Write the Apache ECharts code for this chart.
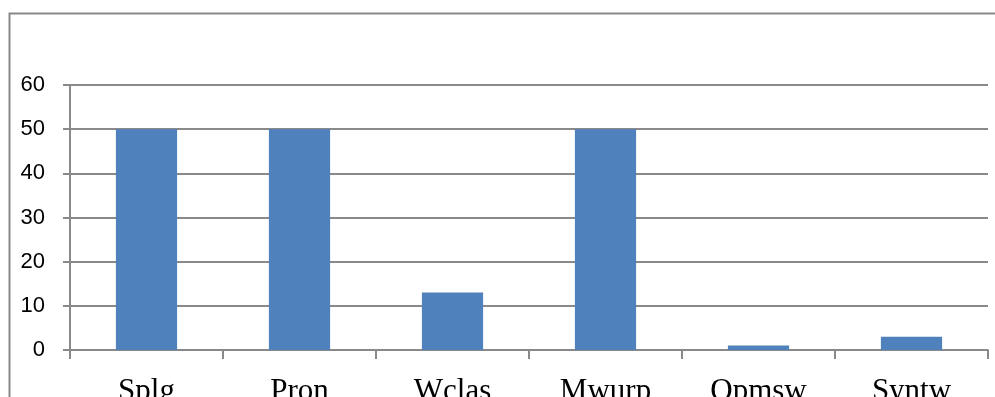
<!DOCTYPE html>
<html>
<head>
<meta charset="utf-8">
<script src="https://cdn.jsdelivr.net/npm/echarts@6/dist/echarts.min.js"></script>
<style>
  html, body { margin: 0; padding: 0; background: #fff; }
  #chart { width: 995px; height: 397px; }
</style>
</head>
<body>
<div id="chart"></div>
<script>
// Category names and their counts
const categories = ['Splg', 'Pron', 'Wclas', 'Mwurp', 'Opmsw', 'Syntw'];
const values = [50, 50, 13, 50, 1, 3];
// Value axis range
const yMin = 0;
const yMax = 60;
const yStep = 10;

const axisGray = '#898989';
const chart = echarts.init(document.getElementById('chart'));
chart.setOption({
  backgroundColor: '#ffffff',
  animation: false,
  graphic: [{
    type: 'rect',
    shape: { x: 9.5, y: 13.5, width: 1000, height: 400 },
    style: { fill: 'none', stroke: axisGray, lineWidth: 2 },
    silent: true
  }],
  grid: {
    left: 70, right: 7, top: 85, bottom: 47,
    containLabel: false,
    outerBoundsMode: 'none'
  },
  xAxis: {
    type: 'category',
    data: categories,
    axisLine: { show: true, lineStyle: { color: axisGray, width: 2 } },
    axisTick: { show: true, alignWithLabel: false, length: 9, lineStyle: { color: axisGray, width: 2 } },
    axisLabel: {
      margin: 26,
      fontFamily: 'Liberation Serif',
      fontSize: 31,
      color: '#000'
    }
  },
  yAxis: {
    type: 'value',
    min: yMin,
    max: yMax,
    interval: yStep,
    axisLine: { show: true, lineStyle: { color: axisGray, width: 2 } },
    axisTick: { show: true, length: 7, lineStyle: { color: axisGray, width: 2 } },
    splitLine: { show: true, lineStyle: { color: axisGray, width: 2 } },
    axisLabel: {
      margin: 25,
      fontFamily: 'Liberation Sans',
      fontSize: 22,
      color: '#000'
    }
  },
  series: [{
    type: 'bar',
    data: values,
    barWidth: '40%',
    itemStyle: { color: '#4f81bd' }
  }]
});
</script>
</body>
</html>
